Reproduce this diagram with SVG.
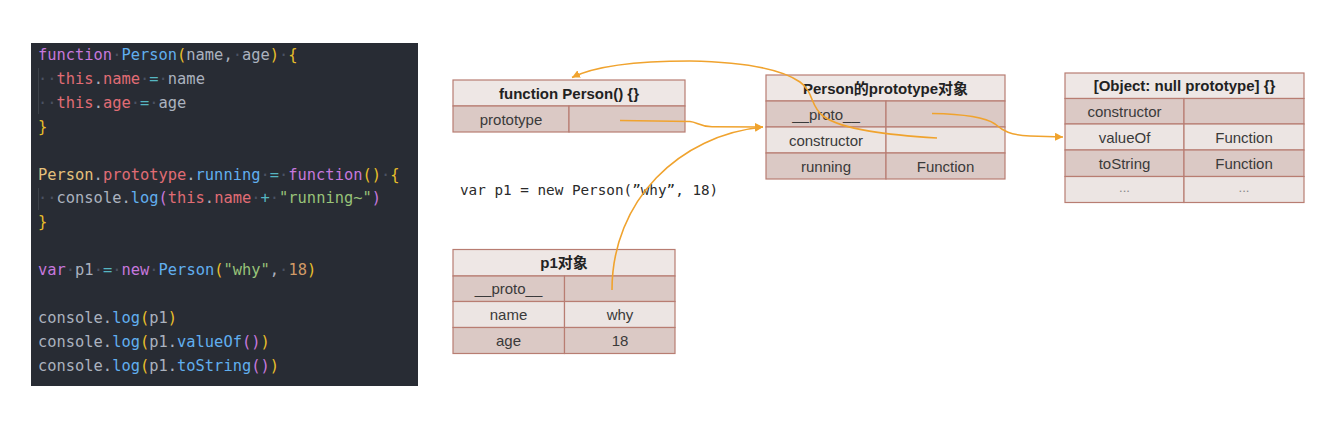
<svg xmlns="http://www.w3.org/2000/svg" width="1321" height="424" viewBox="0 0 1321 424">
<style>
.code{font-family:"DejaVu Sans Mono","Liberation Mono",monospace;font-size:15.4px;fill:#abb2bf}
.k{fill:#c678dd}.f{fill:#61afef}.b{fill:#e8bf2a}.t{fill:#e06c75}.o{fill:#56b6c2}.s{fill:#98c379}.n{fill:#d19a66}.y{fill:#e5c07b}.p{fill:#c678dd}.w{fill:#4b5263}
.hd{fill:#eee7e5;stroke:#b87d72;stroke-width:1.2}
.dk{fill:#dbc9c5;stroke:#b87d72;stroke-width:1.2}
.lt{fill:#ece5e3;stroke:#b87d72;stroke-width:1.2}
.ht{font-family:"Liberation Sans","Noto Sans CJK SC",sans-serif;font-size:15px;font-weight:bold;fill:#222;text-anchor:middle}
.ct{font-family:"Liberation Sans","Noto Sans CJK SC",sans-serif;font-size:15px;fill:#3a3a3a;text-anchor:middle}
.el{font-family:"Liberation Sans",sans-serif;font-size:13px;fill:#888;text-anchor:middle}
.arr{fill:none;stroke:#f0a32e;stroke-width:1.6}
</style>
<defs>
<marker id="ah" markerUnits="userSpaceOnUse" markerWidth="9" markerHeight="8" refX="8" refY="4" orient="auto"><path d="M0,0 L8,4 L0,8 z" fill="#f0a32e"/></marker>
</defs>
<rect width="1321" height="424" fill="#ffffff"/>

<g id="code-panel">
<rect x="31" y="43" width="387" height="343" fill="#282c34"/>
<line x1="38.5" y1="68" x2="38.5" y2="114" stroke="#3b4048" stroke-width="1"/>
<line x1="38.5" y1="188" x2="38.5" y2="210" stroke="#3b4048" stroke-width="1"/>
<text x="126" y="71" font-family="Liberation Sans,sans-serif" font-size="6" fill="#7f848e" text-anchor="middle">...</text>
<text class="code" x="38" y="60"><tspan class="k">function</tspan><tspan class="w">·</tspan><tspan class="f">Person</tspan><tspan class="b">(</tspan>name,<tspan class="w">·</tspan>age<tspan class="b">)</tspan><tspan class="w">·</tspan><tspan class="b">{</tspan></text>
<text class="code" x="38" y="83.9"><tspan class="w">··</tspan><tspan class="t">this</tspan>.<tspan class="t">name</tspan><tspan class="w">·</tspan><tspan class="o">=</tspan><tspan class="w">·</tspan>name</text>
<text class="code" x="38" y="107.8"><tspan class="w">··</tspan><tspan class="t">this</tspan>.<tspan class="t">age</tspan><tspan class="w">·</tspan><tspan class="o">=</tspan><tspan class="w">·</tspan>age</text>
<text class="code" x="38" y="131.7"><tspan class="b">}</tspan></text>
<text class="code" x="38" y="179.5"><tspan class="y">Person</tspan>.<tspan class="t">prototype</tspan>.<tspan class="f">running</tspan><tspan class="w">·</tspan><tspan class="o">=</tspan><tspan class="w">·</tspan><tspan class="k">function</tspan><tspan class="b">()</tspan><tspan class="w">·</tspan><tspan class="b">{</tspan></text>
<text class="code" x="38" y="203.4"><tspan class="w">··</tspan>console.<tspan class="f">log</tspan><tspan class="p">(</tspan><tspan class="t">this</tspan>.<tspan class="t">name</tspan><tspan class="w">·</tspan><tspan class="o">+</tspan><tspan class="w">·</tspan><tspan class="s">"running~"</tspan><tspan class="p">)</tspan></text>
<text class="code" x="38" y="227.3"><tspan class="b">}</tspan></text>
<text class="code" x="38" y="275.1"><tspan class="k">var</tspan><tspan class="w">·</tspan>p1<tspan class="w">·</tspan><tspan class="o">=</tspan><tspan class="w">·</tspan><tspan class="k">new</tspan><tspan class="w">·</tspan><tspan class="f">Person</tspan><tspan class="b">(</tspan><tspan class="s">"why"</tspan>,<tspan class="w">·</tspan><tspan class="n">18</tspan><tspan class="b">)</tspan></text>
<text class="code" x="38" y="322.9">console.<tspan class="f">log</tspan><tspan class="b">(</tspan>p1<tspan class="b">)</tspan></text>
<text class="code" x="38" y="346.8">console.<tspan class="f">log</tspan><tspan class="b">(</tspan>p1.<tspan class="f">valueOf</tspan><tspan class="p">()</tspan><tspan class="b">)</tspan></text>
<text class="code" x="38" y="370.7">console.<tspan class="f">log</tspan><tspan class="b">(</tspan>p1.<tspan class="f">toString</tspan><tspan class="p">()</tspan><tspan class="b">)</tspan></text>
</g>

<g id="node-function-person">
<rect class="hd" x="453" y="80" width="232" height="26"/>
<rect class="dk" x="453" y="106" width="116" height="26"/>
<rect class="dk" x="569" y="106" width="116" height="26"/>
<text class="ht" x="569" y="98.5">function Person() {}</text>
<text class="ct" x="511" y="124.5">prototype</text>
</g>

<g id="node-person-prototype">
<rect class="hd" x="766" y="75" width="239" height="26"/>
<rect class="dk" x="766" y="101" width="120" height="26"/>
<rect class="dk" x="886" y="101" width="119" height="26"/>
<rect class="lt" x="766" y="127" width="120" height="26"/>
<rect class="lt" x="886" y="127" width="119" height="26"/>
<rect class="dk" x="766" y="153" width="120" height="26"/>
<rect class="dk" x="886" y="153" width="119" height="26"/>
<text class="ht" x="885.5" y="93.5">Person的prototype对象</text>
<text class="ct" x="826" y="119.5">__proto__</text>
<text class="ct" x="826" y="145.5">constructor</text>
<text class="ct" x="826" y="171.5">running</text>
<text class="ct" x="945.5" y="171.5">Function</text>
</g>

<g id="node-object-null-prototype">
<rect class="hd" x="1065" y="73" width="239" height="25.5"/>
<rect class="dk" x="1065" y="98.5" width="119" height="25.5"/>
<rect class="dk" x="1184" y="98.5" width="120" height="25.5"/>
<rect class="lt" x="1065" y="124" width="119" height="26"/>
<rect class="lt" x="1184" y="124" width="120" height="26"/>
<rect class="dk" x="1065" y="150" width="119" height="26.5"/>
<rect class="dk" x="1184" y="150" width="120" height="26.5"/>
<rect class="lt" x="1065" y="176.5" width="119" height="26"/>
<rect class="lt" x="1184" y="176.5" width="120" height="26"/>
<text class="ht" x="1184.5" y="91">[Object: null prototype] {}</text>
<text class="ct" x="1124.5" y="117">constructor</text>
<text class="ct" x="1124.5" y="142.5">valueOf</text>
<text class="ct" x="1244" y="142.5">Function</text>
<text class="ct" x="1124.5" y="168.5">toString</text>
<text class="ct" x="1244" y="168.5">Function</text>
<text class="el" x="1124.5" y="192">...</text>
<text class="el" x="1244" y="192">...</text>
</g>

<g id="node-p1">
<rect class="hd" x="453" y="249.5" width="222" height="26.5"/>
<rect class="dk" x="453" y="276" width="111.5" height="25.5"/>
<rect class="dk" x="564.5" y="276" width="110.5" height="25.5"/>
<rect class="lt" x="453" y="301.5" width="111.5" height="26"/>
<rect class="lt" x="564.5" y="301.5" width="110.5" height="26"/>
<rect class="dk" x="453" y="327.5" width="111.5" height="26"/>
<rect class="dk" x="564.5" y="327.5" width="110.5" height="26"/>
<text class="ht" x="564" y="268">p1对象</text>
<text class="ct" x="508.5" y="294">__proto__</text>
<text class="ct" x="508.5" y="320">name</text>
<text class="ct" x="620" y="320">why</text>
<text class="ct" x="508.5" y="346">age</text>
<text class="ct" x="620" y="346">18</text>
</g>

<g id="label-new">
<text x="460" y="195" font-family="DejaVu Sans Mono,Liberation Mono,monospace" font-size="14.3" fill="#2a2a2a">var p1 = new Person(”why”, 18)</text>
</g>

<g id="connectors">
<path class="arr" marker-end="url(#ah)" d="M937,138 C890,135 842,130 823,116 C810,106 814,92 800,82 C780,68 740,62 690,61 C640,61 595,66 572,77.5"/>
<path class="arr" marker-end="url(#ah)" d="M620,120.5 L690,121.5 C697,122 699,126.5 712,126.8 L763,127"/>
<path class="arr" marker-end="url(#ah)" d="M612,290 C612,200 680,135 763,127"/>
<path class="arr" marker-end="url(#ah)" d="M932,113.5 C960,114 985,117 995,124 C1003,131 1010,135 1030,136 L1063,137"/>
</g>
</svg>
